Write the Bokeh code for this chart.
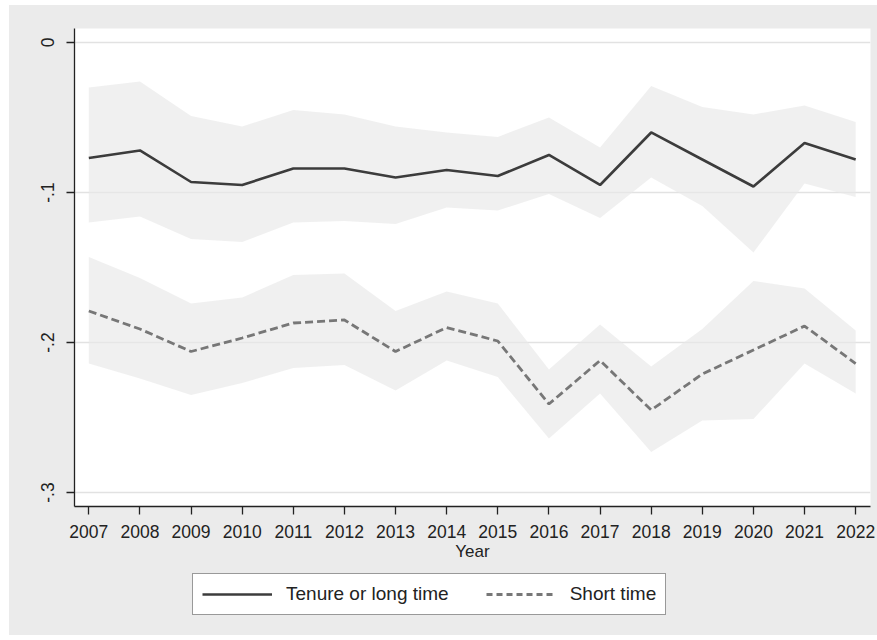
from bokeh.plotting import figure
from bokeh.layouts import column
from bokeh.models import Range1d, FixedTicker, CustomJSTickFormatter, Legend, LegendItem
from bokeh.embed import file_html
from bokeh.resources import INLINE

years = list(range(2007, 2023))
tenure = [-0.077, -0.072, -0.093, -0.095, -0.084, -0.084, -0.090, -0.085,
          -0.089, -0.075, -0.095, -0.060, -0.078, -0.096, -0.067, -0.078]
tenure_hi = [-0.030, -0.026, -0.049, -0.056, -0.045, -0.048, -0.056, -0.060,
             -0.063, -0.050, -0.070, -0.029, -0.043, -0.048, -0.042, -0.053]
tenure_lo = [-0.120, -0.116, -0.131, -0.133, -0.120, -0.119, -0.121, -0.110,
             -0.112, -0.101, -0.117, -0.090, -0.109, -0.140, -0.094, -0.103]
short = [-0.179, -0.191, -0.206, -0.197, -0.187, -0.185, -0.206, -0.190,
         -0.199, -0.241, -0.212, -0.245, -0.221, -0.205, -0.189, -0.214]
short_hi = [-0.143, -0.157, -0.174, -0.170, -0.155, -0.154, -0.179, -0.166,
            -0.174, -0.218, -0.188, -0.216, -0.191, -0.159, -0.164, -0.192]
short_lo = [-0.214, -0.224, -0.235, -0.227, -0.217, -0.215, -0.232, -0.212,
            -0.223, -0.264, -0.234, -0.273, -0.252, -0.251, -0.214, -0.234]
y_ticks = [-0.3, -0.2, -0.1, 0.0]
labels = ["Tenure or long time", "Short time"]

FONT = "Liberation Sans"
BG = "#ebebeb"
C_TENURE = "#3c3c3c"
C_SHORT = "#777777"

p = figure(width=868, height=561, output_backend="svg", toolbar_location=None,
           x_range=Range1d(2006.72, 2022.29), y_range=Range1d(-0.3093, 0.0093),
           min_border_left=65, min_border_right=7, min_border_top=23,
           min_border_bottom=60)
p.background_fill_color = "white"
p.border_fill_color = BG
p.outline_line_color = None

# confidence bands
p.varea(x=years, y1=tenure_lo, y2=tenure_hi, fill_color="#e8e8e8", fill_alpha=0.65)
p.varea(x=years, y1=short_lo, y2=short_hi, fill_color="#e8e8e8", fill_alpha=0.65)

p.line(years, tenure, line_color=C_TENURE, line_width=2.6)
p.line(years, short, line_color=C_SHORT, line_width=2.8, line_dash="8 4")

# grid
p.xgrid.visible = False
p.ygrid.ticker = FixedTicker(ticks=y_ticks)
p.ygrid.grid_line_color = "#e2e2e2"
p.ygrid.grid_line_width = 1.5

# axes
for ax in (p.xaxis[0], p.yaxis[0]):
    ax.axis_line_color = "#222222"
    ax.axis_line_width = 1.3
    ax.major_tick_line_color = "#222222"
    ax.major_tick_line_width = 1.3
    ax.major_tick_out = 8
    ax.major_tick_in = 0
    ax.minor_tick_line_color = None
    ax.major_label_text_font = FONT
    ax.major_label_text_font_size = "17.5px"
    ax.major_label_text_color = "#222222"

p.xaxis.ticker = FixedTicker(ticks=years)
p.xaxis.major_label_standoff = 10
p.xaxis.axis_label = "Year"
p.xaxis.axis_label_text_font = FONT
p.xaxis.axis_label_text_font_size = "17px"
p.xaxis.axis_label_text_font_style = "normal"
p.xaxis.axis_label_text_color = "#222222"
p.xaxis.axis_label_standoff = 1

p.yaxis.ticker = FixedTicker(ticks=y_ticks)
p.yaxis.formatter = CustomJSTickFormatter(
    code="if (Math.abs(tick) < 1e-9) { return '0'; } return tick.toFixed(1).replace('0.', '.');")
p.yaxis.major_label_orientation = "vertical"
p.yaxis.major_label_standoff = 12

# legend strip below the chart (series drawn outside its view, only keys show)
pl = figure(width=868, height=69, output_backend="svg", toolbar_location=None,
            x_axis_type=None, y_axis_type=None,
            x_range=Range1d(0, 1), y_range=Range1d(0, 1),
            min_border_left=0, min_border_right=0, min_border_top=0,
            min_border_bottom=0)
pl.background_fill_color = BG
pl.border_fill_color = BG
pl.outline_line_color = None
pl.xgrid.visible = False
pl.ygrid.visible = False
l1 = pl.line(years, tenure, line_color=C_TENURE, line_width=2.6)
l2 = pl.line(years, short, line_color=C_SHORT, line_width=2.8, line_dash="6 4")

legend = Legend(items=[LegendItem(label=labels[0], renderers=[l1]),
                       LegendItem(label=labels[1], renderers=[l2])],
                location=(118, 20), orientation="horizontal",
                label_text_font=FONT, label_text_font_size="19px",
                label_text_color="#222222",
                glyph_width=70, glyph_height=20, label_height=20,
                label_standoff=14, spacing=37, padding=9, margin=0,
                border_line_color="#333333", border_line_width=1.2,
                background_fill_color="white", background_fill_alpha=1)
pl.add_layout(legend)

layout = column(p, pl, spacing=0, margin=(5, 0, 0, 9),
                styles={"background-color": BG})

open("out.html", "w").write(file_html(layout, INLINE))
